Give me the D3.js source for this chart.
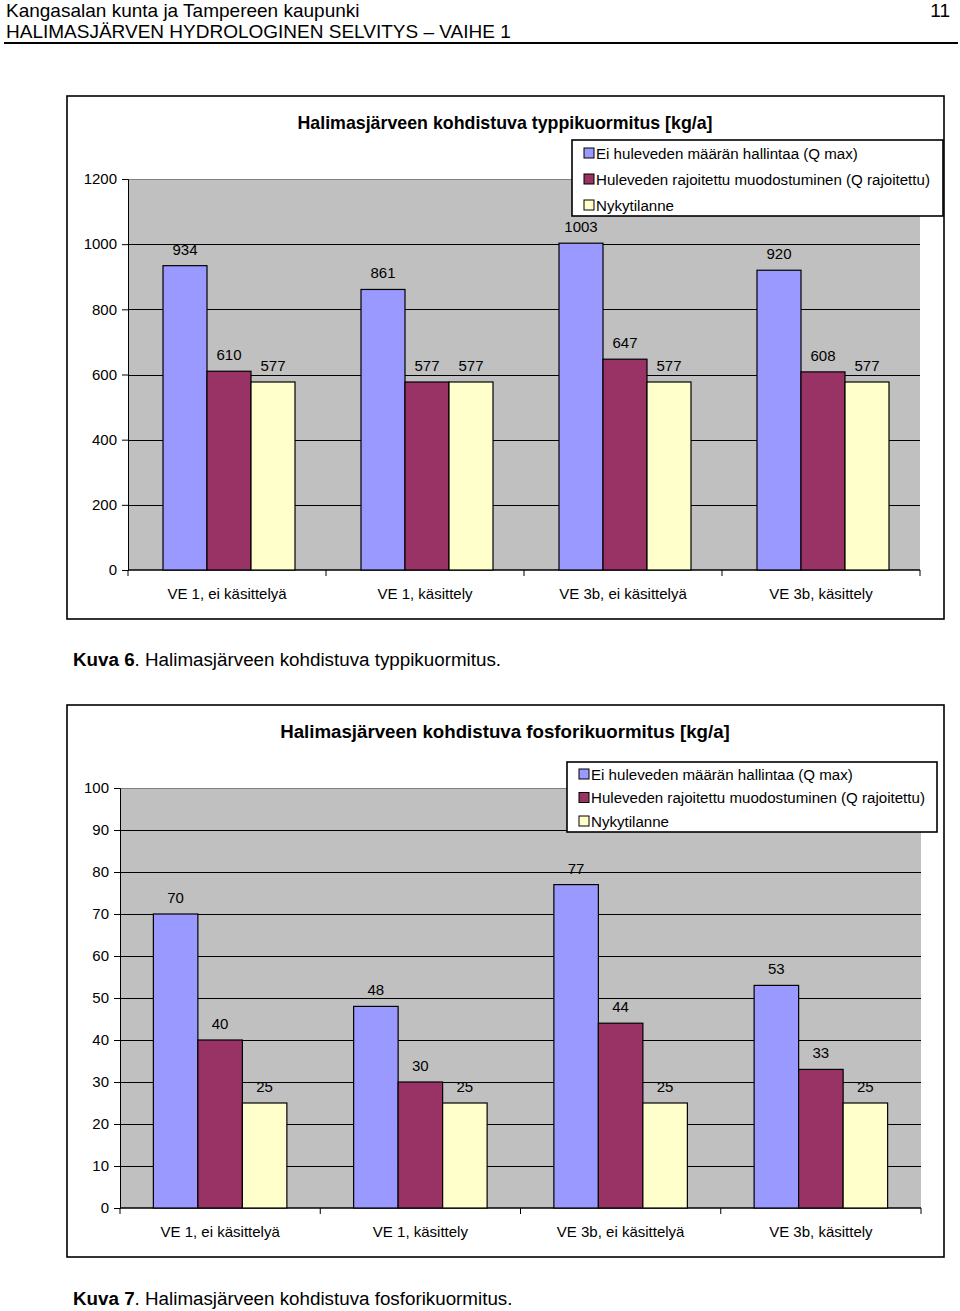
<!DOCTYPE html>
<html><head><meta charset="utf-8">
<script src="https://cdn.jsdelivr.net/npm/d3@7"></script>
<style>
html,body{margin:0;padding:0;background:#fff;}
svg{display:block;font-family:"Liberation Sans",Arial,sans-serif;}
</style></head>
<body>
<svg id="c" width="960" height="1311"></svg>
<script>
const categories = ["VE 1, ei käsittelyä", "VE 1, käsittely", "VE 3b, ei käsittelyä", "VE 3b, käsittely"];
const seriesNames = ["Ei huleveden määrän hallintaa (Q max)", "Huleveden rajoitettu muodostuminen (Q rajoitettu)", "Nykytilanne"];
const seriesColors = ["#9999FF", "#993366", "#FFFFCC"];
const typpiQmax = [934, 861, 1003, 920];
const typpiQraj = [610, 577, 647, 608];
const typpiNyky = [577, 577, 577, 577];
const fosforiQmax = [70, 48, 77, 53];
const fosforiQraj = [40, 30, 44, 33];
const fosforiNyky = [25, 25, 25, 25];
const typpiTicks = [0, 200, 400, 600, 800, 1000, 1200];
const fosforiTicks = [0, 10, 20, 30, 40, 50, 60, 70, 80, 90, 100];

const svg = d3.select("#c");
const FF = "Liberation Sans, Arial, sans-serif";

// header
svg.append("text").attr("x", 6).attr("y", 17).attr("font-size", 19).text("Kangasalan kunta ja Tampereen kaupunki");
svg.append("text").attr("x", 950).attr("y", 17).attr("font-size", 19).attr("text-anchor", "end").text("11");
svg.append("text").attr("x", 6).attr("y", 38).attr("font-size", 19).text("HALIMASJÄRVEN HYDROLOGINEN SELVITYS – VAIHE 1");
svg.append("line").attr("x1", 4).attr("x2", 958).attr("y1", 43).attr("y2", 43).attr("stroke", "#000").attr("stroke-width", 2);

function drawChart(cfg) {
  const g = svg.append("g");
  g.append("rect").attr("x", cfg.box[0]).attr("y", cfg.box[1]).attr("width", cfg.box[2] - cfg.box[0]).attr("height", cfg.box[3] - cfg.box[1])
    .attr("fill", "#fff").attr("stroke", "#000").attr("stroke-width", 1.6);
  g.append("text").attr("x", cfg.titleX).attr("y", cfg.titleY).attr("text-anchor", "middle").attr("font-size", cfg.titleSize).attr("font-weight", "bold").text(cfg.title);

  const x = d3.scaleBand().domain(categories).range([cfg.left, cfg.right]).paddingInner(0).paddingOuter(0);
  const bw = x.bandwidth();
  const xi = d3.scaleBand().domain(seriesNames).range([bw / 6 + cfg.barShift, bw * 5 / 6 + cfg.barShift]);
  const y = d3.scaleLinear().domain([0, cfg.max]).range([cfg.bottom, cfg.top]);

  g.append("rect").attr("x", cfg.left).attr("y", y(cfg.max)).attr("width", cfg.right - cfg.left).attr("height", y(0) - y(cfg.max)).attr("fill", "#C0C0C0");
  g.selectAll(".grid").data(cfg.ticks.filter(t => t > 0)).enter().append("line")
    .attr("x1", cfg.left).attr("x2", cfg.right).attr("y1", d => Math.round(y(d)) + 0.5).attr("y2", d => Math.round(y(d)) + 0.5)
    .attr("stroke", d => d === cfg.max ? "#808080" : "#000").attr("stroke-width", 1);

  const yAxis = d3.axisLeft(y).tickValues(cfg.ticks).tickSize(6).tickPadding(cfg.tickPad).tickFormat(d3.format("d"));
  const ya = g.append("g").attr("transform", `translate(${cfg.left},0)`).call(yAxis);
  ya.select(".domain").attr("stroke", "#000");
  ya.selectAll("text").attr("font-size", 15).attr("fill", "#000").attr("font-family", FF);

  const xa = g.append("g").attr("transform", `translate(0,${cfg.bottom})`).call(d3.axisBottom(x).tickSize(0).tickPadding(cfg.catPad));
  xa.select(".domain").remove();
  xa.selectAll("text").attr("font-size", 15).attr("fill", "#000").attr("font-family", FF);
  const bounds = [0].concat(categories.map((c, i) => i + 1));
  g.selectAll(".xt").data(bounds).enter().append("line")
    .attr("x1", i => (i < categories.length ? x(categories[i]) : cfg.right)).attr("x2", i => (i < categories.length ? x(categories[i]) : cfg.right))
    .attr("y1", cfg.bottom).attr("y2", cfg.bottom + 6).attr("stroke", "#000");
  g.append("line").attr("x1", cfg.left).attr("x2", cfg.right).attr("y1", cfg.bottom).attr("y2", cfg.bottom).attr("stroke", "#000").attr("stroke-width", 1.5);

  cfg.series.forEach((vals, si) => {
    const name = seriesNames[si];
    g.selectAll(".b" + si).data(vals).enter().append("rect")
      .attr("x", (d, i) => x(categories[i]) + xi(name)).attr("y", d => y(d))
      .attr("width", xi.bandwidth()).attr("height", d => y(0) - y(d))
      .attr("fill", seriesColors[si]).attr("stroke", "#000").attr("stroke-width", 1.2);
    g.selectAll(".l" + si).data(vals).enter().append("text")
      .attr("x", (d, i) => x(categories[i]) + xi(name) + xi.bandwidth() / 2).attr("y", d => y(d) - 11)
      .attr("text-anchor", "middle").attr("font-size", 15).text(d => d);
  });

  const L = cfg.legend;
  g.append("rect").attr("x", L[0]).attr("y", L[1]).attr("width", L[2] - L[0]).attr("height", L[3] - L[1]).attr("fill", "#fff").attr("stroke", "#000").attr("stroke-width", 1.6);
  seriesNames.forEach((n, i) => {
    const cy = L[1] + cfg.legendFirst + i * cfg.legendStep;
    g.append("rect").attr("x", L[0] + 12).attr("y", cy - 5).attr("width", 10).attr("height", 10).attr("fill", seriesColors[i]).attr("stroke", "#000").attr("stroke-width", 1);
    g.append("text").attr("x", L[0] + 24).attr("y", cy + 5.5).attr("font-size", 15.1).text(n);
  });
}

drawChart({
  box: [67, 96, 944, 619], title: "Halimasjärveen kohdistuva typpikuormitus [kg/a]", titleX: 505, titleY: 129, titleSize: 17.8,
  left: 128, right: 920, top: 179, bottom: 570, max: 1200, ticks: typpiTicks, tickPad: 5, catPad: 18, barShift: 2,
  series: [typpiQmax, typpiQraj, typpiNyky],
  legend: [572, 140, 943, 216], legendFirst: 13, legendStep: 26
});
drawChart({
  box: [67, 705, 944, 1257], title: "Halimasjärveen kohdistuva fosforikuormitus [kg/a]", titleX: 505, titleY: 738, titleSize: 18.7,
  left: 120, right: 921, top: 788, bottom: 1208, max: 100, ticks: fosforiTicks, tickPad: 5, catPad: 18, barShift: 0,
  series: [fosforiQmax, fosforiQraj, fosforiNyky],
  legend: [567, 762, 937, 832], legendFirst: 12, legendStep: 23.5
});

function caption(yb, num, rest) {
  const t = svg.append("text").attr("x", 73).attr("y", yb).attr("font-size", 18.8);
  t.append("tspan").attr("font-weight", "bold").text("Kuva " + num);
  t.append("tspan").text(rest);
}
caption(666, "6", ". Halimasjärveen kohdistuva typpikuormitus.");
caption(1305, "7", ". Halimasjärveen kohdistuva fosforikuormitus.");
</script>
</body></html>
